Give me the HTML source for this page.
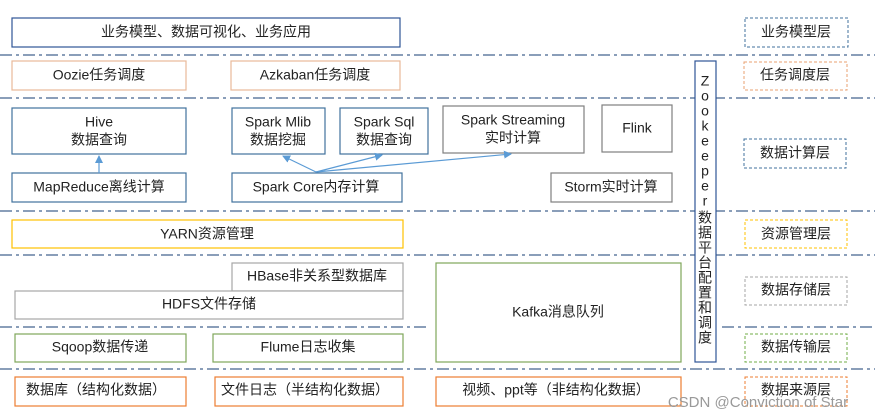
<!DOCTYPE html>
<html><head><meta charset="utf-8"><style>
html,body{margin:0;padding:0;background:#fff;width:875px;height:420px;overflow:hidden}
svg text{font-family:"Liberation Sans","Noto Sans CJK SC",sans-serif;font-size:14px;fill:#222;text-anchor:middle;dominant-baseline:middle}
</style></head><body>
<svg width="875" height="420" viewBox="0 0 875 420" xmlns="http://www.w3.org/2000/svg">
<defs><marker id="a" markerWidth="8" markerHeight="8" refX="7" refY="4" orient="auto" markerUnits="userSpaceOnUse"><path d="M0,0 L8,4 L0,8 z" fill="#5b9bd5"/></marker></defs>
<g stroke="#44648f" stroke-width="1.2" stroke-dasharray="12,4,3,4" fill="none">
<line x1="0" y1="55" x2="875" y2="55"/>
<line x1="0" y1="98" x2="875" y2="98"/>
<line x1="0" y1="211" x2="875" y2="211"/>
<line x1="0" y1="255" x2="875" y2="255"/>
<line x1="0" y1="327" x2="430" y2="327"/>
<line x1="722" y1="327" x2="875" y2="327"/>
<line x1="0" y1="369" x2="875" y2="369"/>
</g>
<g fill="#fff" stroke-width="1.2">
<rect x="12" y="18" width="388" height="29" stroke="#2f5597"/>
<rect x="12" y="61" width="174" height="29" stroke="#e8b99a"/>
<rect x="231" y="61" width="169" height="29" stroke="#e8b99a"/>
<rect x="12" y="108" width="174" height="46" stroke="#41719c"/>
<rect x="232" y="108" width="93" height="46" stroke="#41719c"/>
<rect x="340" y="108" width="88" height="46" stroke="#41719c"/>
<rect x="443" y="106" width="141" height="47" stroke="#7f7f7f"/>
<rect x="602" y="105" width="70" height="47" stroke="#7f7f7f"/>
<rect x="12" y="173" width="174" height="29" stroke="#41719c"/>
<rect x="232" y="173" width="170" height="29" stroke="#41719c"/>
<rect x="551" y="173" width="121" height="29" stroke="#7f7f7f"/>
<rect x="12" y="220" width="391" height="28" stroke="#ffc000"/>
<rect x="232" y="263" width="171" height="28" stroke="#a6a6a6"/>
<rect x="15" y="291" width="388" height="28" stroke="#a6a6a6"/>
<rect x="436" y="263" width="245" height="99" stroke="#7fa65a"/>
<rect x="15" y="334" width="171" height="28" stroke="#7fa65a"/>
<rect x="213" y="334" width="190" height="28" stroke="#7fa65a"/>
<rect x="15" y="377" width="171" height="29" stroke="#ed7d31"/>
<rect x="215" y="377" width="188" height="29" stroke="#ed7d31"/>
<rect x="436" y="377" width="245" height="29" stroke="#ed7d31"/>
<rect x="695" y="61" width="21" height="301" stroke="#2f5597"/>
</g>
<g fill="#fff" stroke-width="1" stroke-dasharray="3,2">
<rect x="745" y="18" width="103" height="29" stroke="#41719c"/>
<rect x="744" y="62" width="103" height="28" stroke="#e8a070"/>
<rect x="744" y="139" width="102" height="29" stroke="#41719c"/>
<rect x="745" y="220" width="102" height="28" stroke="#ffc000"/>
<rect x="745" y="277" width="102" height="28" stroke="#a6a6a6"/>
<rect x="745" y="334" width="102" height="28" stroke="#70ad47"/>
<rect x="745" y="377" width="102" height="29" stroke="#ed7d31"/>
</g>
<g stroke="#5b9bd5" stroke-width="1.2" marker-end="url(#a)">
<line x1="99" y1="173" x2="99" y2="156"/>
<line x1="316" y1="172" x2="283" y2="156"/>
<line x1="316" y1="172" x2="382" y2="155"/>
<line x1="316" y1="172" x2="511" y2="154"/>
</g>
<text x="206" y="33">业务模型、数据可视化、业务应用</text>
<text x="99" y="76">Oozie任务调度</text>
<text x="315" y="76">Azkaban任务调度</text>
<text x="99" y="123">Hive</text><text x="99" y="141">数据查询</text>
<text x="278" y="123">Spark Mlib</text><text x="278" y="141">数据挖掘</text>
<text x="384" y="123">Spark Sql</text><text x="384" y="141">数据查询</text>
<text x="513" y="121">Spark Streaming</text><text x="513" y="139">实时计算</text>
<text x="637" y="129">Flink</text>
<text x="99" y="188">MapReduce离线计算</text>
<text x="316" y="188">Spark Core内存计算</text>
<text x="611" y="188">Storm实时计算</text>
<text x="207" y="235">YARN资源管理</text>
<text x="317" y="277">HBase非关系型数据库</text>
<text x="209" y="305">HDFS文件存储</text>
<text x="558" y="313">Kafka消息队列</text>
<text x="100" y="348">Sqoop数据传递</text>
<text x="308" y="348">Flume日志收集</text>
<text x="96" y="391">数据库（结构化数据）</text>
<text x="305" y="391">文件日志（半结构化数据）</text>
<text x="556" y="391">视频、ppt等（非结构化数据）</text>
<g style="font-size:14px">
<text x="705" y="82">Z</text><text x="705" y="97">o</text><text x="705" y="112">o</text><text x="705" y="127">k</text><text x="705" y="142">e</text><text x="705" y="157">e</text><text x="705" y="172">p</text><text x="705" y="187">e</text><text x="705" y="202">r</text>
<text x="705" y="219">数</text><text x="705" y="234">据</text><text x="705" y="249">平</text><text x="705" y="264">台</text><text x="705" y="279">配</text><text x="705" y="294">置</text><text x="705" y="309">和</text><text x="705" y="324">调</text><text x="705" y="339">度</text>
</g>
<text x="796" y="33">业务模型层</text>
<text x="795" y="76">任务调度层</text>
<text x="795" y="154">数据计算层</text>
<text x="796" y="235">资源管理层</text>
<text x="796" y="291">数据存储层</text>
<text x="796" y="348">数据传输层</text>
<text x="796" y="391">数据来源层</text>
<text x="758" y="403" style="fill:#999;font-size:15px">CSDN @Conviction of Star</text>
</svg>
</body></html>
